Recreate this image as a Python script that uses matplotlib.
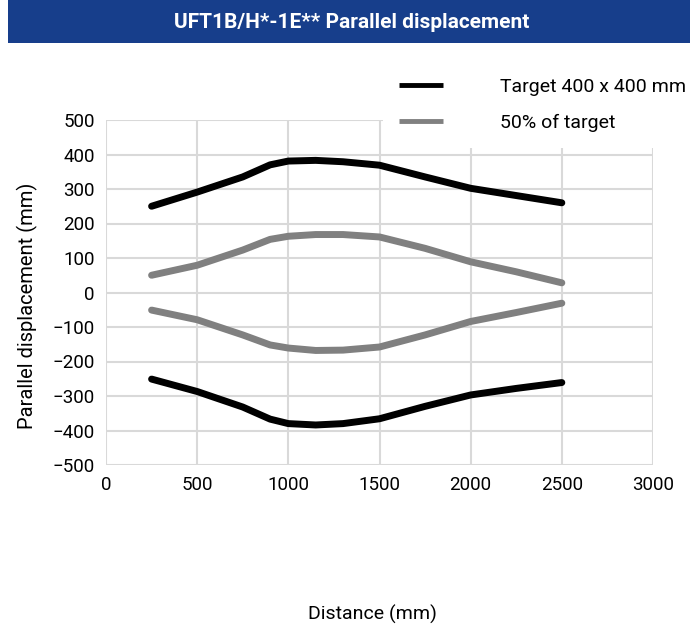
import numpy as np
import matplotlib
matplotlib.use('Agg')
import matplotlib.pyplot as plt
from matplotlib.patches import Rectangle

# values
jarak = [250, 500, 750, 900, 1000, 1150, 1300, 1500, 1750, 2000, 2250, 2500]
target_atas = [250, 291, 335, 370, 381, 383, 379, 369, 335, 302, 281, 260]
target_bawah = [-251, -287, -332, -367, -380, -384, -380, -366, -330, -297, -278, -261]
separuh_atas = [50, 79, 123, 154, 163, 168, 168, 161, 128, 89, 60, 28]
separuh_bawah = [-51, -79, -123, -152, -161, -168, -167, -158, -123, -84, -58, -31]

xticks = [0, 500, 1000, 1500, 2000, 2500, 3000]
yticks = [500, 400, 300, 200, 100, 0, -100, -200, -300, -400, -500]

judul = 'UFT1B/H*-1E** Parallel displacement'
label_target = 'Target 400 x 400 mm'
label_separuh = '50% of target'

plt.rcParams['font.family'] = ['Roboto', 'DejaVu Sans']

W, H = 694, 628
fig = plt.figure(figsize=(W / 100, H / 100), dpi=100)

# title bar
fig.patches.append(Rectangle((8 / W, 1 - 43 / H), 682 / W, 43 / H,
                             transform=fig.transFigure, facecolor='#173e8b',
                             edgecolor='none'))
fig.text(352 / W, 1 - 23 / H, judul, color='white', fontsize=15,
         fontweight='bold', ha='center', va='center')

ax = fig.add_axes([106 / W, 1 - 465 / H, 547 / W, 345 / H])
hitam = '#000000'
abu = '#808080'
lw = 5
ax.plot(jarak, target_atas, color=hitam, lw=lw, solid_capstyle='round',
        label=label_target, zorder=3)
ax.plot(jarak, separuh_atas, color=abu, lw=lw, solid_capstyle='round',
        label=label_separuh, zorder=3)
ax.plot(jarak, separuh_bawah, color=abu, lw=lw, solid_capstyle='round', zorder=3)
ax.plot(jarak, target_bawah, color=hitam, lw=lw, solid_capstyle='round', zorder=3)

ax.set_xlim(0, 3000)
ax.set_ylim(-500, 500)
ax.set_xticks(xticks)
ax.set_yticks(yticks)
ax.set_yticklabels([str(v).replace('-', '\u2212') for v in yticks])
ax.tick_params(length=0, labelsize=13.5, pad=8)
ax.grid(True, color='#d9d9d9', lw=1.5)
ax.set_axisbelow(True)
for s in ax.spines.values():
    s.set_visible(False)

fig.text(27 / W, 1 - 306 / H, 'Parallel displacement (mm)',
         rotation=90, ha='center', va='center', fontsize=14.5)
fig.text(372 / W, 1 - 614 / H, 'Distance (mm)', ha='center', va='center',
         fontsize=14)

leg = fig.legend(loc='upper left', bbox_to_anchor=(383 / W, 1 - 62 / H),
                 fontsize=14, frameon=True, handlelength=2.3,
                 handletextpad=2.9, labelspacing=0.95, borderpad=0.8,
                 borderaxespad=0)
leg.get_frame().set_facecolor('white')
leg.get_frame().set_edgecolor('none')
leg.get_frame().set_alpha(1)
leg.set_zorder(10)
for h in leg.get_lines():
    h.set_linewidth(3.5)
    h.set_solid_capstyle('butt')

fig.savefig('out.png', dpi=100)
